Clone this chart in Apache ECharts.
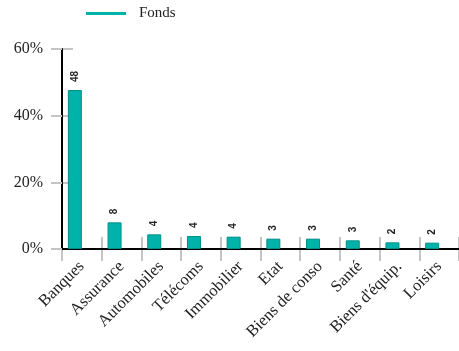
<!DOCTYPE html>
<html>
<head>
<meta charset="utf-8">
<script src="https://cdn.jsdelivr.net/npm/echarts@6/dist/echarts.min.js"></script>
<style>
  html, body { margin: 0; padding: 0; background: #ffffff; }
  #chart { width: 459px; height: 351px; }
</style>
</head>
<body>
<div id="chart"></div>
<script>
// Sector breakdown of the fund (% of assets)
const categories = ['Banques', 'Assurance', 'Automobiles', 'Télécoms', 'Immobilier',
  'Etat', 'Biens de conso', 'Santé', "Biens d'équip.", 'Loisirs'];
const fondsValues = [47.7, 8.0, 4.4, 3.9, 3.7, 3.1, 3.1, 2.6, 2.0, 1.9];
const yTicks = { min: 0, max: 60, interval: 20 };

const serif = '"Liberation Serif", "DejaVu Serif", serif';
const tickStyle = { color: '#c4c4c4', width: 2 };

const chart = echarts.init(document.getElementById('chart'));
chart.setOption({
  animation: false,
  backgroundColor: '#ffffff',
  legend: {
    data: ['Fonds'],
    left: 86,
    top: 6,
    padding: 0,
    icon: 'rect',
    itemWidth: 40,
    itemHeight: 3,
    itemStyle: { borderWidth: 0, color: '#00b3aa' },
    textStyle: { fontFamily: serif, fontSize: 15, color: '#222', padding: [0, 0, 0, 8] }
  },
  grid: { left: 62, right: -3, top: 49, bottom: 102 },
  xAxis: [{
    type: 'category',
    data: categories,
    axisLine: { lineStyle: { color: '#000', width: 2 } },
    axisTick: { show: false },
    axisLabel: { rotate: 45, margin: 15, fontFamily: serif, fontSize: 16.5, color: '#222', interval: 0 },
    z: 3
  }, {
    type: 'category',
    data: categories,
    position: 'bottom',
    axisLine: { show: false },
    axisTick: { show: true, interval: 0, length: 24, lineStyle: tickStyle },
    axisLabel: { show: false },
    offset: -12
  }],
  yAxis: [{
    type: 'value',
    min: yTicks.min, max: yTicks.max, interval: yTicks.interval,
    axisLine: { show: true, lineStyle: { color: '#000', width: 2 } },
    axisTick: { show: true, length: 11, lineStyle: tickStyle },
    splitLine: { show: false },
    axisLabel: { formatter: '{value}%', margin: 19, fontFamily: serif, fontSize: 16, color: '#222' },
    z: 3
  }, {
    type: 'value',
    position: 'left',
    min: yTicks.min, max: yTicks.max, interval: yTicks.interval,
    axisLine: { show: false },
    axisTick: { show: true, inside: true, length: 11, lineStyle: tickStyle },
    splitLine: { show: false },
    axisLabel: { show: false }
  }],
  series: [{
    name: 'Fonds',
    type: 'bar',
    data: fondsValues,
    barWidth: 14,
    barGap: '0%',
    itemStyle: { color: '#00b3aa', borderColor: '#008f88', borderWidth: 1 },
    label: {
      show: true,
      position: 'top',
      rotate: 90,
      align: 'left',
      verticalAlign: 'middle',
      distance: 8,
      fontFamily: '"Liberation Sans", Arial, sans-serif',
      fontSize: 10,
      fontWeight: 'bold',
      color: '#222',
      formatter: p => Math.round(p.value)
    },
    z: 4
  }, {
    name: 'Indice',
    type: 'bar',
    data: categories.map(() => '-'),
    barWidth: 14,
    barGap: '0%'
  }]
});
</script>
</body>
</html>
